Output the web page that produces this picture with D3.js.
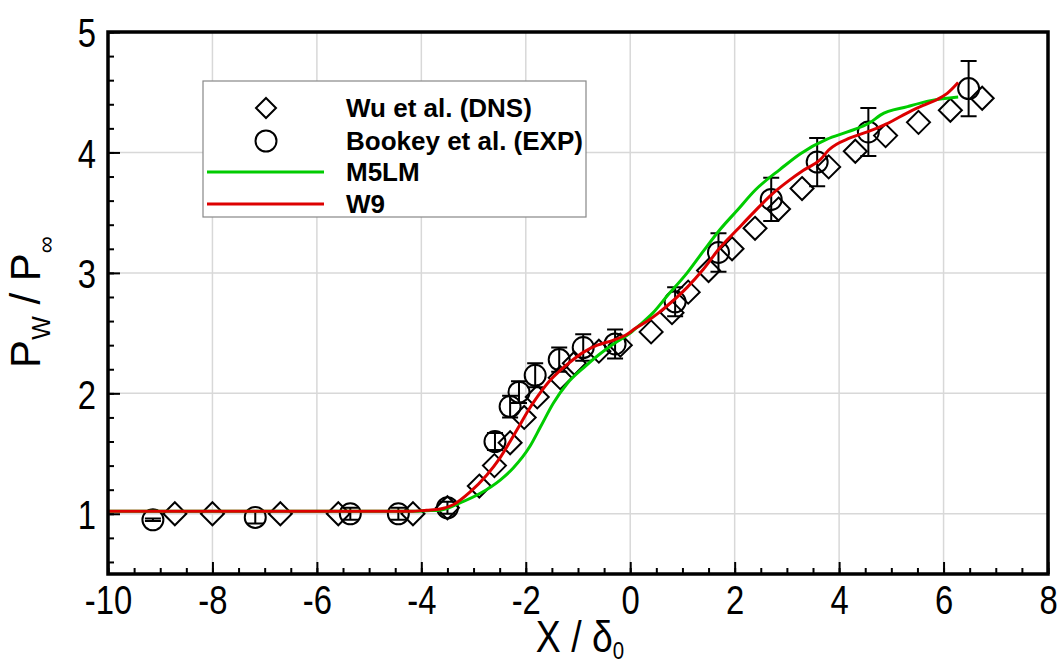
<!DOCTYPE html>
<html><head><meta charset="utf-8">
<script src="https://cdn.jsdelivr.net/npm/d3@7"></script>
<style>
html,body{margin:0;padding:0;background:#fff;}
svg{display:block;}
</style></head>
<body><svg id="chart" width="1057" height="666"></svg>
<script>
// ---- data ----
const wuX = [-8.72,-8.00,-6.70,-5.59,-4.16,-3.50,-2.89,-2.60,-2.30,-2.03,-1.78,-1.34,-1.07,-0.60,-0.19,0.40,0.80,1.11,1.50,1.95,2.39,2.84,3.29,3.80,4.31,4.89,5.52,6.13,6.74];
const wuP = [1.00,1.00,1.00,1.00,1.00,1.05,1.23,1.40,1.59,1.80,1.97,2.13,2.25,2.35,2.40,2.51,2.67,2.84,3.02,3.20,3.37,3.53,3.70,3.88,4.01,4.14,4.25,4.35,4.45];
const bookeyX = [-9.14,-7.18,-5.36,-4.44,-3.50,-2.59,-2.30,-2.13,-1.82,-1.36,-0.90,-0.29,0.86,1.69,2.70,3.58,4.56,6.48];
const bookeyP = [0.95,0.97,1.00,1.00,1.05,1.60,1.89,2.01,2.15,2.28,2.38,2.41,2.76,3.17,3.61,3.92,4.17,4.53];
const bookeyErr = [0.01,0.05,0.05,0.05,0.05,0.07,0.09,0.09,0.10,0.10,0.11,0.12,0.12,0.16,0.18,0.20,0.20,0.23];
const m5lmX = [-10,-7,-5,-4.2,-3.9,-3.64,-3.26,-2.87,-2.49,-2.24,-1.92,-1.72,-1.47,-1.21,-0.90,-0.60,-0.25,0,0.19,0.44,0.71,1.09,1.40,1.72,2.05,2.40,2.87,3.26,3.77,4.16,4.60,4.79,5.31,5.75,6.28];
const m5lmP = [1.02,1.02,1.02,1.02,1.025,1.03,1.09,1.17,1.28,1.38,1.56,1.72,1.92,2.08,2.21,2.32,2.43,2.50,2.57,2.67,2.81,3.00,3.18,3.36,3.52,3.69,3.86,3.99,4.11,4.17,4.25,4.31,4.38,4.43,4.46];
const w9X = [-10,-7,-5,-4.2,-3.9,-3.64,-3.39,-3.07,-2.75,-2.50,-2.30,-2.11,-1.95,-1.78,-1.55,-1.34,-1.15,-0.90,-0.63,-0.33,-0.06,0.10,0.33,0.55,0.77,1.09,1.40,1.72,2.05,2.36,2.68,3.05,3.31,3.64,3.80,4.21,4.54,4.92,5.40,5.61,5.88,6.07,6.28];
const w9P = [1.02,1.02,1.02,1.02,1.03,1.04,1.075,1.18,1.32,1.46,1.60,1.74,1.86,1.97,2.10,2.19,2.26,2.34,2.40,2.44,2.49,2.54,2.60,2.67,2.75,2.88,3.03,3.21,3.36,3.50,3.64,3.77,3.85,3.94,4.02,4.12,4.17,4.24,4.35,4.39,4.44,4.49,4.58];
const xTicks = [-10,-8,-6,-4,-2,0,2,4,6,8];
const yTicks = [1,2,3,4,5];
const legendLabels = ["Wu et al. (DNS)","Bookey et al. (EXP)","M5LM","W9"];

// ---- layout ----
const svg = d3.select("#chart");
const L = 108, R = 1048, T = 32, B = 574;
const x = d3.scaleLinear().domain([-10,8]).range([L,R]);
const y = d3.scaleLinear().domain([0.5,5]).range([B,T]);
const GREEN = "#00cc00", RED = "#dd0000";
const FONT = "'Liberation Sans',Arial,sans-serif";

// grid
const g = svg.append("g");
g.selectAll("line.gx").data(xTicks.slice(1,-1)).join("line")
  .attr("x1",d=>x(d)).attr("x2",d=>x(d)).attr("y1",T).attr("y2",B)
  .attr("stroke","#d8d8d8").attr("stroke-width",1.5);
g.selectAll("line.gy").data(yTicks.slice(0,-1)).join("line")
  .attr("y1",d=>y(d)).attr("y2",d=>y(d)).attr("x1",L).attr("x2",R)
  .attr("stroke","#d8d8d8").attr("stroke-width",1.5);

// axes (ticks inward)
const xMinor = d3.range(-10,8.001,0.5);
const yMinor = d3.range(0.6,5.001,0.2);
svg.append("g").attr("transform",`translate(0,${B})`)
  .call(d3.axisTop(x).tickValues(xMinor).tickSize(6).tickFormat(""))
  .call(s=>s.select(".domain").remove())
  .selectAll("line").attr("stroke","#000").attr("stroke-width",2);
svg.append("g").attr("transform",`translate(${L},0)`)
  .call(d3.axisRight(y).tickValues(yMinor).tickSize(6).tickFormat(""))
  .call(s=>s.select(".domain").remove())
  .selectAll("line").attr("stroke","#000").attr("stroke-width",2);

const xa = svg.append("g").attr("transform",`translate(0,${B})`)
  .call(d3.axisTop(x).tickValues(xTicks).tickSize(12).tickFormat(d=>String(d)));
xa.select(".domain").remove();
xa.selectAll("line").attr("stroke","#000").attr("stroke-width",2);
xa.selectAll("text").attr("y",40).attr("dy",0).attr("font-size",41).attr("fill","#000")
  .attr("font-family",FONT).attr("text-anchor","middle")
  .attr("transform","scale(0.8,1)");

const ya = svg.append("g").attr("transform",`translate(${L},0)`)
  .call(d3.axisRight(y).tickValues(yTicks).tickSize(12).tickFormat(d=>String(d)));
ya.select(".domain").remove();
ya.selectAll("line").attr("stroke","#000").attr("stroke-width",2);
ya.selectAll("text").attr("x",-12/0.8).attr("dy","0.36em").attr("text-anchor","end")
  .attr("font-size",41).attr("fill","#000").attr("font-family",FONT)
  .attr("transform","scale(0.8,1)");

// markers: diamonds
const dsz = 11.5;
svg.append("g").selectAll("path").data(wuX.map((d,i)=>[d,wuP[i]])).join("path")
  .attr("d",d=>`M${x(d[0])},${y(d[1])-dsz}L${x(d[0])+dsz},${y(d[1])}L${x(d[0])},${y(d[1])+dsz}L${x(d[0])-dsz},${y(d[1])}Z`)
  .attr("fill","none").attr("stroke","#000").attr("stroke-width",2);

// circles with error bars
const bk = bookeyX.map((d,i)=>({x:d,p:bookeyP[i],e:bookeyErr[i]}));
const eb = svg.append("g").attr("stroke","#000").attr("stroke-width",2).attr("fill","none");
eb.selectAll("path.err").data(bk).join("path")
  .attr("d",d=>{const cx=x(d.x),y1=y(d.p+d.e),y2=y(d.p-d.e);return `M${cx},${y1}V${y2}M${cx-8},${y1}H${cx+8}M${cx-8},${y2}H${cx+8}`;});
eb.selectAll("circle").data(bk).join("circle")
  .attr("cx",d=>x(d.x)).attr("cy",d=>y(d.p)).attr("r",10.5);

// lines
const line = d3.line().x(d=>x(d[0])).y(d=>y(d[1])).curve(d3.curveMonotoneX);
svg.append("path").datum(m5lmX.map((d,i)=>[d,m5lmP[i]])).attr("d",line)
  .attr("fill","none").attr("stroke",GREEN).attr("stroke-width",3);
svg.append("path").datum(w9X.map((d,i)=>[d,w9P[i]])).attr("d",line)
  .attr("fill","none").attr("stroke",RED).attr("stroke-width",3);

// frame
svg.append("rect").attr("x",L).attr("y",T).attr("width",R-L).attr("height",B-T)
  .attr("fill","none").attr("stroke","#000").attr("stroke-width",3.5);

// legend
const lg = svg.append("g");
lg.append("rect").attr("x",203).attr("y",81).attr("width",383).attr("height",136)
  .attr("fill","#fff").attr("stroke","#888").attr("stroke-width",1.2);
const rowY = [108,141,172,204];
lg.append("path").attr("d",`M266,${rowY[0]-10}L276,${rowY[0]}L266,${rowY[0]+10}L256,${rowY[0]}Z`)
  .attr("fill","none").attr("stroke","#000").attr("stroke-width",2);
lg.append("circle").attr("cx",266).attr("cy",rowY[1]).attr("r",10.5).attr("fill","none").attr("stroke","#000").attr("stroke-width",2);
lg.append("line").attr("x1",207).attr("x2",324).attr("y1",rowY[2]).attr("y2",rowY[2]).attr("stroke",GREEN).attr("stroke-width",3);
lg.append("line").attr("x1",207).attr("x2",324).attr("y1",rowY[3]).attr("y2",rowY[3]).attr("stroke",RED).attr("stroke-width",3);
lg.selectAll("text").data(legendLabels).join("text")
  .attr("x",346).attr("y",(d,i)=>rowY[i]+9).text(d=>d)
  .attr("font-family",FONT).attr("font-weight","bold").attr("font-size",26).attr("fill","#000");

// axis titles
const xt = svg.append("text").attr("transform","translate(580,652) scale(0.85,1)").attr("text-anchor","middle")
  .attr("font-family",FONT).attr("font-size",44).attr("fill","#000");
xt.append("tspan").text("X / δ");
xt.append("tspan").text("0").attr("font-size",24).attr("dy",7);

const yt = svg.append("text").attr("transform","translate(40,302) rotate(-90)").attr("text-anchor","middle")
  .attr("font-family",FONT).attr("font-size",42).attr("fill","#000");
yt.append("tspan").text("P");
yt.append("tspan").text("W").attr("font-size",25).attr("dy",10);
yt.append("tspan").text(" / P").attr("dy",-10);
yt.append("tspan").text("∞").attr("font-size",24).attr("dy",14);
</script></body></html>
